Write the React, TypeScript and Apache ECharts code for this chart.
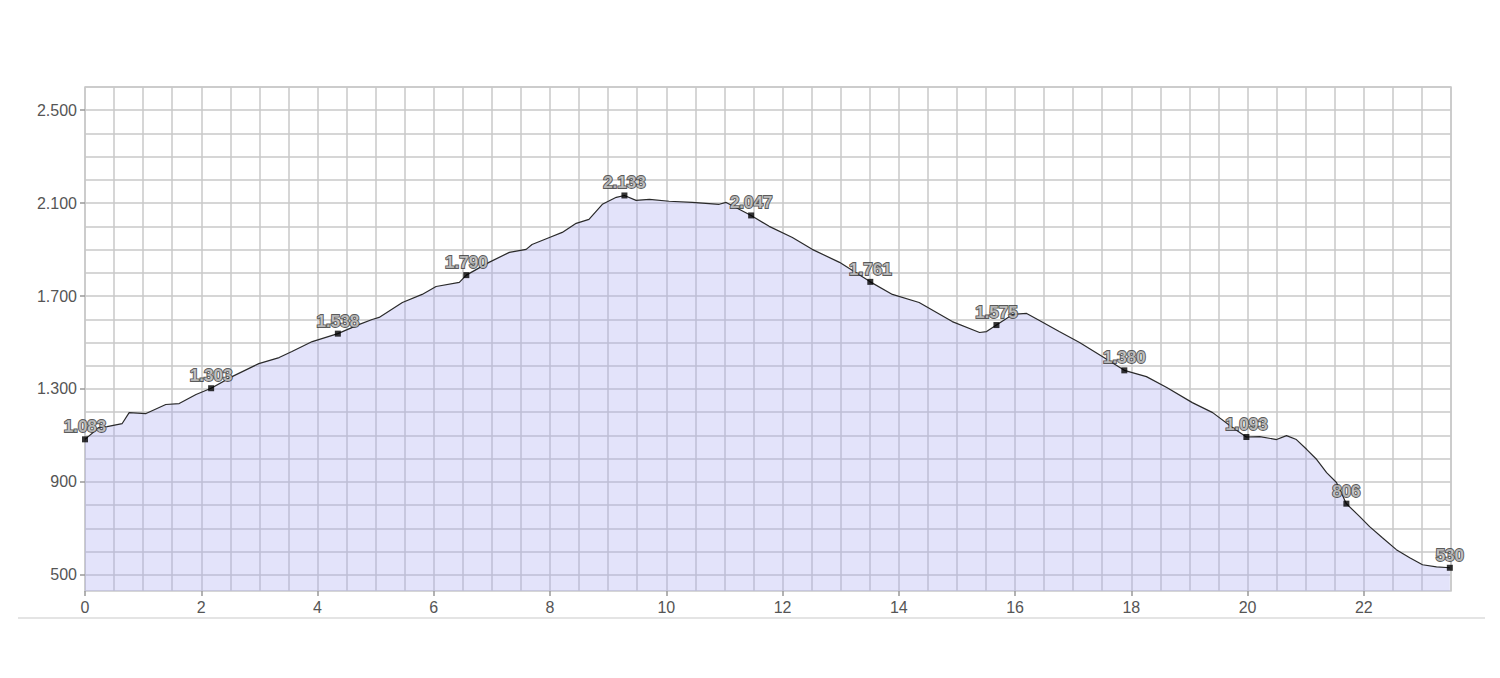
import React, { useEffect, useRef } from 'react';
import * as echarts from 'echarts';

// Elevation profile (distance in km, elevation in m)
const distanceKm = [
  0, 0.24, 0.38, 0.64, 0.76, 1.05, 1.39, 1.62, 1.91, 2.17, 2.53, 2.99, 3.34, 3.56, 3.91, 4.35,
  4.72, 4.94, 5.06, 5.46, 5.8, 6.04, 6.44, 6.56, 6.95, 7.3, 7.59, 7.69, 7.99, 8.21, 8.45, 8.67,
  8.9, 9.14, 9.28, 9.48, 9.71, 10.05, 10.45, 10.91, 11.03, 11.46, 11.77, 12.17, 12.51, 12.98,
  13.51, 13.89, 14.35, 14.92, 15.39, 15.51, 15.68, 15.96, 16.2, 16.42, 16.76, 17.11, 17.5,
  17.88, 18.26, 18.61, 19.05, 19.4, 19.74, 19.98, 20.21, 20.5, 20.67, 20.84, 21.02, 21.19,
  21.36, 21.53, 21.7, 21.93, 22.1, 22.32, 22.56, 22.79, 23.01, 23.25, 23.48,
];
const elevationM = [
  1083, 1134, 1138, 1151, 1198, 1194, 1233, 1237, 1276, 1303, 1353, 1409, 1435, 1461, 1504, 1538,
  1578, 1599, 1608, 1672, 1707, 1741, 1759, 1790, 1845, 1888, 1901, 1922, 1952, 1974, 2013, 2030,
  2095, 2125, 2133, 2112, 2116, 2108, 2103, 2095, 2103, 2047, 2000, 1952, 1901, 1845,
  1761, 1707, 1672, 1590, 1543, 1547, 1575, 1621, 1625, 1595, 1547, 1500, 1440,
  1380, 1353, 1306, 1241, 1198, 1134, 1093, 1095, 1082, 1099, 1082, 1039, 996,
  940, 897, 806, 750, 707, 659, 608, 573, 543, 534, 530,
];

// Labelled waypoints
const markKm = [0, 2.17, 4.35, 6.56, 9.28, 11.46, 13.51, 15.68, 17.88, 19.98, 21.7, 23.48];
const markElev = [1083, 1303, 1538, 1790, 2133, 2047, 1761, 1575, 1380, 1093, 806, 530];

// Axis ticks
const yLabelValues = [500, 900, 1300, 1700, 2100, 2500];
const yGridValues = [500, 600, 700, 800, 900, 1000, 1100, 1200, 1300, 1400, 1500, 1600, 1700, 1800, 1900, 2000, 2100, 2200, 2300, 2400, 2500, 2600];
const xLabelValues = [0, 2, 4, 6, 8, 10, 12, 14, 16, 18, 20, 22];
const xGridValues = [
  0, 0.5, 1, 1.5, 2, 2.5, 3, 3.5, 4, 4.5, 5, 5.5, 6, 6.5, 7, 7.5, 8, 8.5, 9, 9.5, 10, 10.5, 11, 11.5,
  12, 12.5, 13, 13.5, 14, 14.5, 15, 15.5, 16, 16.5, 17, 17.5, 18, 18.5, 19, 19.5, 20, 20.5, 21, 21.5,
  22, 22.5, 23, 23.5,
];

const Y_MIN = 430;
const Y_MAX = 2600;
const X_MIN = 0;
const X_MAX = 23.5;

const fmt = (v: number) => {
  const s = String(Math.round(v));
  return s.replace(/\B(?=(\d{3})+(?!\d))/g, '.');
};

export default function App() {
  const ref = useRef<HTMLDivElement>(null);
  useEffect(() => {
    if (!ref.current) return;
    const chart = echarts.init(ref.current, undefined, { renderer: 'svg' });
    const gridColor = '#c9c9c9';
    const labelFont = { fontFamily: 'Liberation Sans, Arial, sans-serif', fontSize: 16, color: '#555555' };
    chart.setOption({
      animation: false,
      backgroundColor: '#ffffff',
      grid: {
        left: 85, right: 49, top: 87, bottom: 87,
        show: true, borderColor: gridColor, borderWidth: 1.5, backgroundColor: 'transparent',
      },
      xAxis: [
        {
          type: 'value', min: X_MIN, max: X_MAX, position: 'bottom',
          axisLine: { show: false },
          axisTick: { show: false, customValues: xGridValues },
          axisLabel: { show: false },
          splitLine: { show: true, lineStyle: { color: gridColor, width: 1.5 } },
        },
        {
          type: 'value', min: X_MIN, max: X_MAX, position: 'bottom',
          axisLine: { show: false },
          axisTick: { show: true, customValues: xLabelValues, length: 5, lineStyle: { color: '#999', width: 1.5 } },
          axisLabel: { show: true, customValues: xLabelValues, margin: 8, ...labelFont, formatter: (v: number) => fmt(v) },
          splitLine: { show: false },
        },
      ],
      yAxis: [
        {
          type: 'value', min: Y_MIN, max: Y_MAX, position: 'left',
          axisLine: { show: false },
          axisTick: { show: false, customValues: yGridValues },
          axisLabel: { show: false },
          splitLine: { show: true, lineStyle: { color: gridColor, width: 1.5 } },
        },
        {
          type: 'value', min: Y_MIN, max: Y_MAX, position: 'left',
          axisLine: { show: false },
          axisTick: { show: true, customValues: yLabelValues, length: 5, lineStyle: { color: '#999', width: 1.5 } },
          axisLabel: { show: true, customValues: yLabelValues, margin: 8, ...labelFont, formatter: (v: number) => fmt(v) },
          splitLine: { show: false },
        },
      ],
      series: [
        {
          type: 'line',
          xAxisIndex: 0, yAxisIndex: 0,
          data: distanceKm.map((d, i) => [d, elevationM[i]]),
          showSymbol: false,
          symbol: 'none',
          lineStyle: { color: '#2a2a2a', width: 1.2 },
          areaStyle: { color: 'rgba(168,168,240,0.46)', origin: 'start' },
          z: 2,
        },
        {
          type: 'scatter',
          xAxisIndex: 0, yAxisIndex: 0,
          data: markKm.map((d, i) => [d, markElev[i]]),
          symbol: 'rect',
          symbolSize: 6,
          itemStyle: { color: '#000000' },
          label: {
            show: true,
            position: 'top',
            distance: 1,
            formatter: (p: any) => fmt(p.value[1]),
            fontFamily: 'Liberation Sans, Arial, sans-serif',
            fontSize: 17,
            fontWeight: 'bold',
            color: '#cfcfcf',
            textBorderColor: '#2e2e2e',
            textBorderWidth: 1.8,
          },
          z: 5,
        },
      ],
      graphic: [
        {
          type: 'line',
          shape: { x1: 18, y1: 618, x2: 1485, y2: 618 },
          style: { stroke: '#e4e4e4', lineWidth: 2 },
        },
      ],
    });
    return () => chart.dispose();
  }, []);
  return <div ref={ref} style={{ position: 'absolute', left: 0, top: 0, width: 1500, height: 678 }} />;
}
